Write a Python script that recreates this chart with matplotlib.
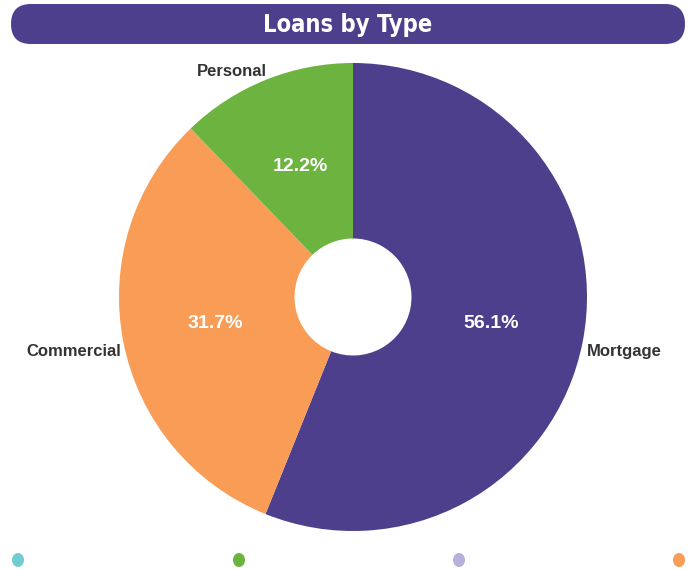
import matplotlib
matplotlib.use("Agg")
import matplotlib.pyplot as plt
from matplotlib.patches import FancyBboxPatch, Ellipse

# data
categories = ["Mortgage", "Commercial", "Personal"]
shares = [56.1, 31.7, 12.2]
slice_colors = ["#4E3F8C", "#F89C56", "#6DB33F"]
legend_colors = ["#72CDD3", "#6DB33F", "#B8B0D8", "#F89C56"]

plt.rcParams['font.family'] = ['Liberation Sans', 'DejaVu Sans']

fig = plt.figure(figsize=(6.94, 5.69), dpi=100)

# background axes in pixel units for title bar and legend dots
bg = fig.add_axes([0, 0, 1, 1])
bg.set_xlim(0, 694)
bg.set_ylim(569, 0)
bg.axis('off')

bar = FancyBboxPatch((11, 4), 674, 40, boxstyle="round,pad=0,rounding_size=20",
                     facecolor="#4E3F8C", edgecolor="none")
bg.add_patch(bar)
bg.text(348, 25, "Loans by Type", color="white", fontsize=17, fontweight="bold",
        family=['DejaVu Sans'], fontstretch='condensed',
        ha="center", va="center")

dot_x = [18, 239, 459, 679]
for x, c in zip(dot_x, legend_colors):
    bg.add_patch(Ellipse((x, 560), 12, 14, facecolor=c, edgecolor="none"))

# donut
ax = fig.add_axes([119 / 694, 38 / 569, 468 / 694, 468 / 569])
wedges, texts, autotexts = ax.pie(
    shares, labels=categories, colors=slice_colors, startangle=90, counterclock=False,
    autopct='%1.1f%%', pctdistance=0.6, labeldistance=1.02, radius=1,
    wedgeprops=dict(width=0.75, edgecolor="none"),
    textprops=dict(fontsize=12, fontweight="bold", color="#333333"))
for t in autotexts:
    t.set_color("white")
    t.set_fontsize(14)
texts[0].set_position((1.0, -0.235))
texts[1].set_position((-0.99, -0.235))
texts[2].set_position((-0.37, 0.963))
ax.set_xlim(-1, 1)
ax.set_ylim(-1, 1)
ax.set_aspect('equal')

fig.savefig("out.png", dpi=100)
